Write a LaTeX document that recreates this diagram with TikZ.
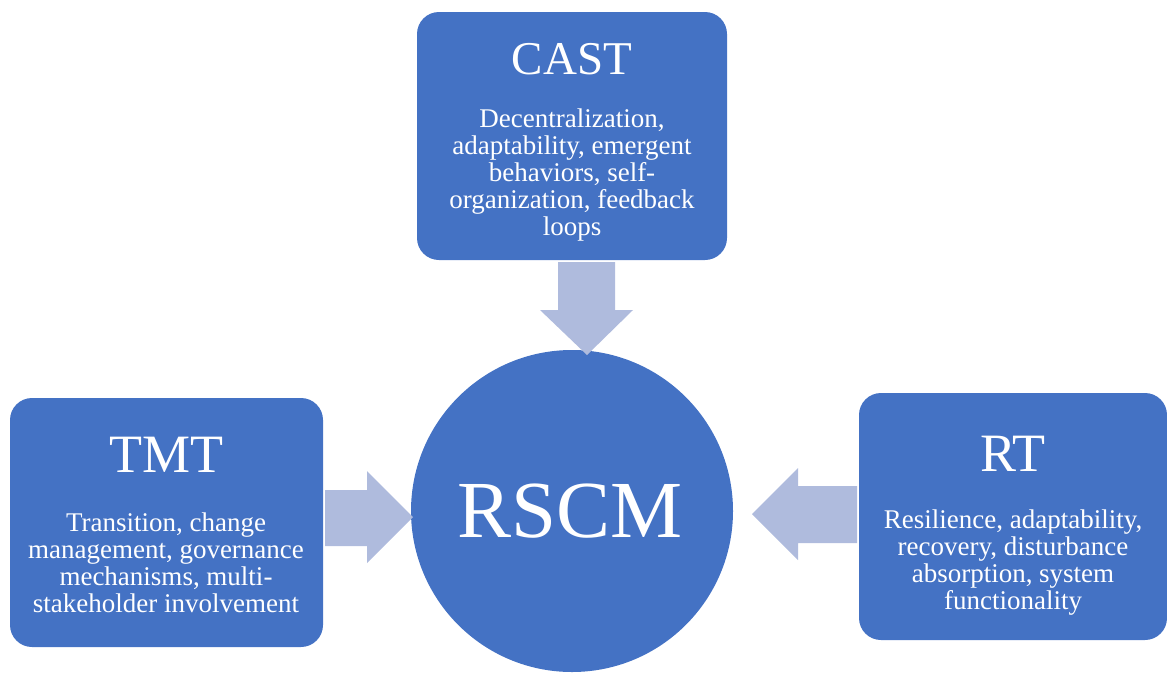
\documentclass[tikz,border=0pt]{standalone}
\usepackage{fontspec}
\setmainfont{Liberation Serif}
\definecolor{boxblue}{HTML}{4472C4}
\definecolor{arrowblue}{HTML}{AFBBDD}
\begin{document}
\begin{tikzpicture}[x=1pt,y=-1pt,
  box/.style={fill=boxblue, draw=none, rounded corners=22pt, inner sep=0pt},
  title/.style={text=white, inner sep=0pt, anchor=base},
  body/.style={text=white, inner sep=0pt, align=center, font=\fontsize{27}{27}\selectfont},
  blockarrow/.style={fill=arrowblue, draw=none}]
\useasboundingbox (0,0) rectangle (1167,673);
% boxes
\path[box] (417,12) rectangle (727,260);
\node[inner sep=0pt, minimum size=0pt] (cast) at (572,136) {};
\path[box] (10,398) rectangle (323,647);
\node[inner sep=0pt, minimum size=0pt] (tmt) at (166,522) {};
\path[box] (859,393) rectangle (1167,640);
\node[inner sep=0pt, minimum size=0pt] (rt) at (1013,516) {};
% circle
\node[circle, fill=boxblue, minimum size=322pt, inner sep=0pt] (rscm) at (572,511) {};
\node[title, font=\fontsize{81}{81}\selectfont] (rscmt) at (570,537) {RSCM};
% titles
\node[title, font=\fontsize{47}{47}\selectfont] (castt) at (572,74) {CAST};
\node[title, font=\fontsize{54}{54}\selectfont] (tmtt) at (166,472) {TMT};
\node[title, font=\fontsize{54}{54}\selectfont] (rtt) at (1013,471) {RT};
% bodies
\node[body] (castb) at (572,175) {Decentralization,\\adaptability, emergent\\behaviors, self-\\organization, feedback\\loops};
\node[body] (tmtb) at (166,563) {Transition, change\\management, governance\\mechanisms, multi-\\stakeholder involvement};
\node[body] (rtb) at (1013,563) {Resilience, adaptability,\\recovery, disturbance\\absorption, system\\functionality};
% block arrows
\path[blockarrow] (558,262) -- (615,262) -- (615,310) -- (633,310) -- (587,355) -- (540,310) -- (558,310) -- cycle;
\path[blockarrow] (325,490) -- (367,490) -- (367,471) -- (413,517) -- (367,563) -- (367,546) -- (325,546) -- cycle;
\path[blockarrow] (857,486) -- (798,486) -- (798,468) -- (752,514) -- (798,560) -- (798,543) -- (857,543) -- cycle;
\end{tikzpicture}
\end{document}
